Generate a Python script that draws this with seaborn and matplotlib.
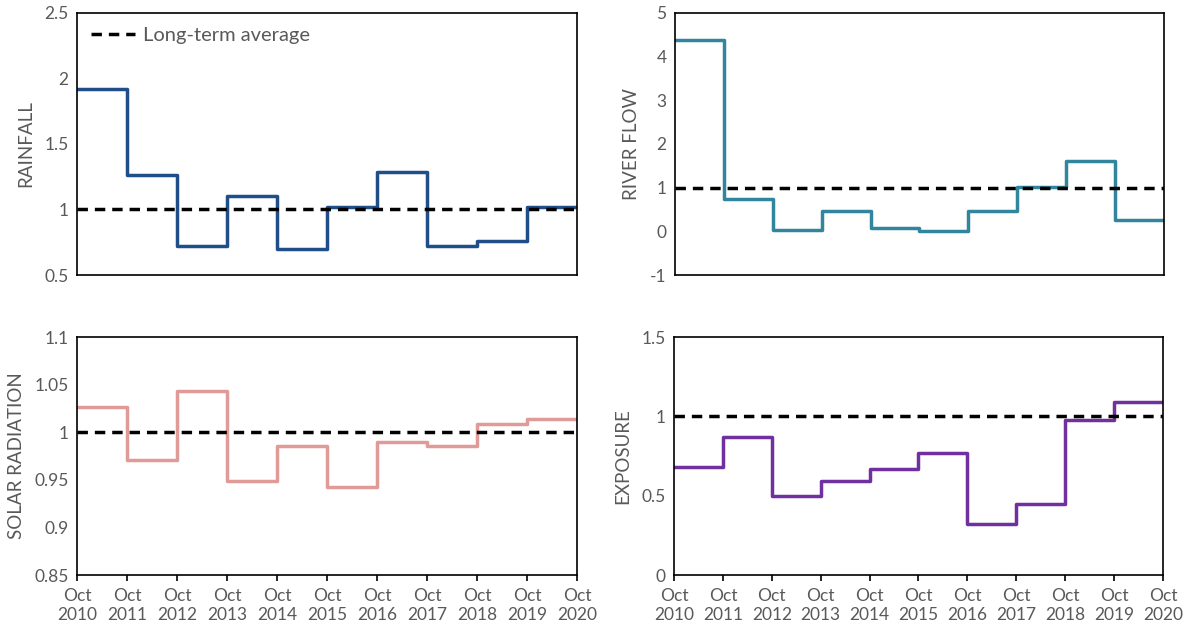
import numpy as np
import pandas as pd
import seaborn as sns
import matplotlib.pyplot as plt

# water years starting Oct 2010 ... Oct 2019 (ten steps), axis runs to Oct 2020
years = [2010, 2011, 2012, 2013, 2014, 2015, 2016, 2017, 2018, 2019, 2020]
tick_labels = [f"Oct\n{y}" for y in years]

rainfall = [1.92, 1.26, 0.72, 1.10, 0.70, 1.02, 1.29, 0.72, 0.76, 1.02]
river_flow = [4.37, 0.73, 0.02, 0.47, 0.08, 0.00, 0.47, 1.02, 1.61, 0.27]
solar = [1.027, 0.971, 1.043, 0.949, 0.986, 0.942, 0.990, 0.985, 1.009, 1.014]
exposure = [0.68, 0.87, 0.50, 0.59, 0.67, 0.77, 0.32, 0.445, 0.975, 1.09]

long_term = 1.0

panels = [
    ("RAINFALL", rainfall, "#1f4e88", (0.5, 2.5), [0.5, 1, 1.5, 2, 2.5], ["0.5", "1", "1.5", "2", "2.5"]),
    ("RIVER FLOW", river_flow, "#31859c", (-1, 5), [-1, 0, 1, 2, 3, 4, 5], ["-1", "0", "1", "2", "3", "4", "5"]),
    ("SOLAR RADIATION", solar, "#e09a98", (0.85, 1.1), [0.85, 0.9, 0.95, 1, 1.05, 1.1],
     ["0.85", "0.9", "0.95", "1", "1.05", "1.1"]),
    ("EXPOSURE", exposure, "#7030a0", (0, 1.5), [0, 0.5, 1, 1.5], ["0", "0.5", "1", "1.5"]),
]

sns.set_style("white")
plt.rcParams['font.family'] = ['Lato', 'DejaVu Sans']

fig = plt.figure(figsize=(11.86, 6.27), dpi=100)
boxes = [
    [0.0649, 0.5614, 0.4216, 0.4179],
    [0.5691, 0.5614, 0.4123, 0.4179],
    [0.0649, 0.0829, 0.4216, 0.3796],
    [0.5683, 0.0829, 0.4123, 0.3796],
]

grey = "#595959"
for i, (name, vals, color, ylim, yt, ytl) in enumerate(panels):
    ax = fig.add_axes(boxes[i])
    df = pd.DataFrame({"year": years, "value": vals + [vals[-1]]})
    sns.lineplot(data=df, x="year", y="value", ax=ax, color=color,
                 linewidth=2.5, drawstyle="steps-post")
    ax.plot([years[0], years[-1]], [long_term, long_term], color="black",
            linewidth=2.5, dashes=(3.0, 2.0), label="Long-term average")
    ax.set_xlim(years[0], years[-1])
    ax.set_ylim(*ylim)
    ax.set_yticks(yt)
    ax.set_yticklabels(ytl)
    ax.set_ylabel(name, fontsize=13.5, color=grey, labelpad=7)
    ax.set_xlabel("")
    ax.tick_params(axis="y", length=0, labelsize=12.5, labelcolor=grey, pad=6)
    for sp in ax.spines.values():
        sp.set_color("black")
        sp.set_linewidth(1.2)
    if i >= 2:
        ax.set_xticks(years)
        ax.set_xticklabels(tick_labels, linespacing=1.3)
        ax.tick_params(axis="x", direction="out", length=4, width=1.2, color="black",
                       labelsize=12.5, labelcolor=grey, pad=5, bottom=True)
    else:
        ax.set_xticks([])
    if i == 0:
        h = [ax.get_lines()[-1]]
        ax.legend(h, ["Long-term average"], loc="upper left", frameon=False,
                  fontsize=14.5, handlelength=2.2, handletextpad=0.4,
                  borderaxespad=0.3, labelcolor=grey)

fig.savefig("out.png", dpi=100)
